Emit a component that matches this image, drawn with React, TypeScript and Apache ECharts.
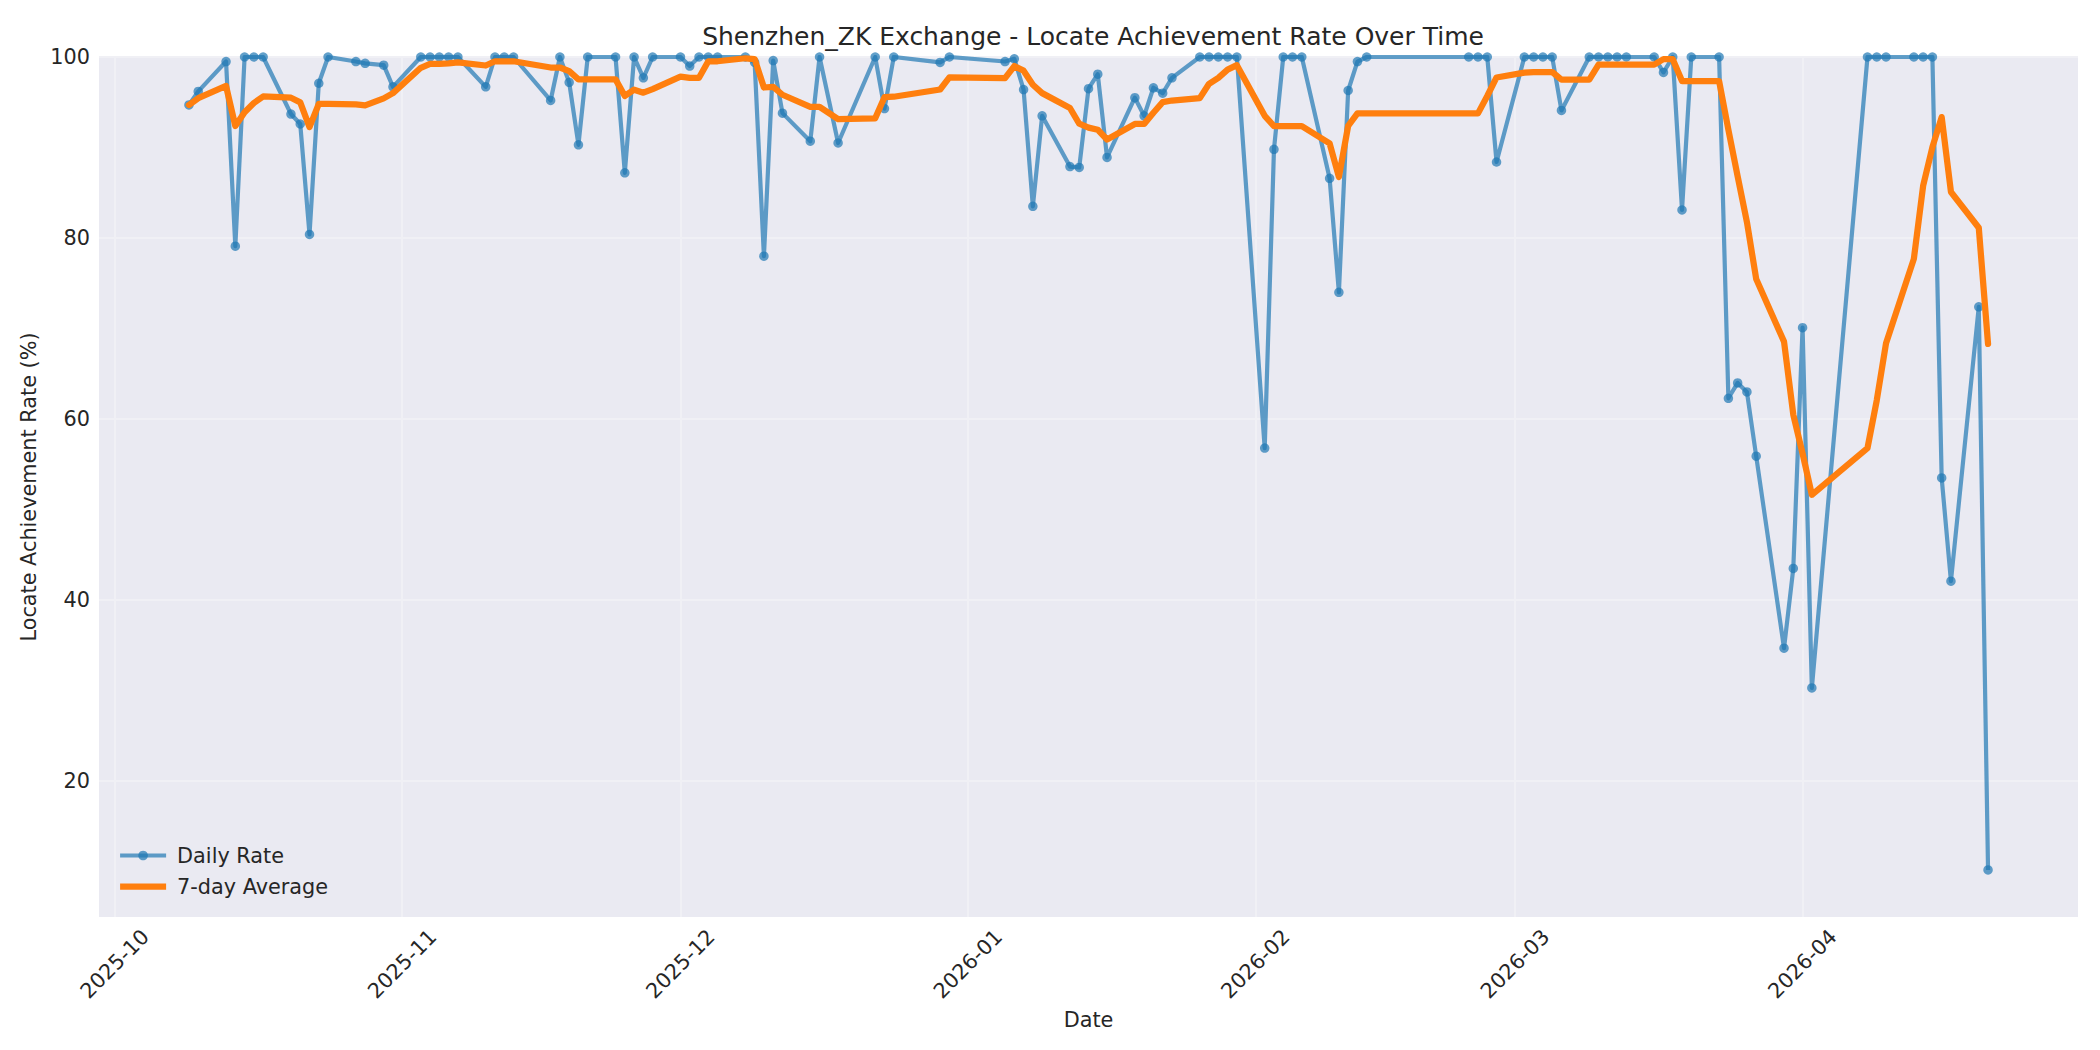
import React, { useEffect, useRef } from "react";
import * as echarts from "echarts";

// ---- Data ----
const dates: string[] = [
  "2025-10-09", "2025-10-10", "2025-10-13", "2025-10-14", "2025-10-15", "2025-10-16", "2025-10-17",
  "2025-10-20", "2025-10-21", "2025-10-22", "2025-10-23", "2025-10-24", "2025-10-27", "2025-10-28",
  "2025-10-30", "2025-10-31",
  "2025-11-03", "2025-11-04", "2025-11-05", "2025-11-06", "2025-11-07", "2025-11-10", "2025-11-11",
  "2025-11-12", "2025-11-13", "2025-11-17", "2025-11-18", "2025-11-19", "2025-11-20", "2025-11-21",
  "2025-11-24", "2025-11-25", "2025-11-26", "2025-11-27", "2025-11-28",
  "2025-12-01", "2025-12-02", "2025-12-03", "2025-12-04", "2025-12-05", "2025-12-08", "2025-12-09",
  "2025-12-10", "2025-12-11", "2025-12-12", "2025-12-15", "2025-12-16", "2025-12-18", "2025-12-22",
  "2025-12-23", "2025-12-24", "2025-12-29", "2025-12-30",
  "2026-01-05", "2026-01-06", "2026-01-07", "2026-01-08", "2026-01-09", "2026-01-12", "2026-01-13",
  "2026-01-14", "2026-01-15", "2026-01-16", "2026-01-19", "2026-01-20", "2026-01-21", "2026-01-22",
  "2026-01-23", "2026-01-26", "2026-01-27", "2026-01-28", "2026-01-29", "2026-01-30",
  "2026-02-02", "2026-02-03", "2026-02-04", "2026-02-05", "2026-02-06", "2026-02-09", "2026-02-10",
  "2026-02-11", "2026-02-12", "2026-02-13", "2026-02-24", "2026-02-25", "2026-02-26", "2026-02-27",
  "2026-03-02", "2026-03-03", "2026-03-04", "2026-03-05", "2026-03-06", "2026-03-09", "2026-03-10",
  "2026-03-11", "2026-03-12", "2026-03-13", "2026-03-16", "2026-03-17", "2026-03-18", "2026-03-19",
  "2026-03-20", "2026-03-23", "2026-03-24", "2026-03-25", "2026-03-26", "2026-03-27", "2026-03-30",
  "2026-03-31",
  "2026-04-01", "2026-04-02", "2026-04-08", "2026-04-09", "2026-04-10", "2026-04-13", "2026-04-14",
  "2026-04-15", "2026-04-16", "2026-04-17", "2026-04-20", "2026-04-21",
];

const dailyRate: number[] = [
  94.7, 96.2, 99.5, 79.1, 100, 100, 100,
  93.7, 92.6, 80.4, 97.1, 100, 99.5, 99.3,
  99.1, 96.7,
  100, 100, 100, 100, 100, 96.7, 100,
  100, 100, 95.2, 100, 97.2, 90.3, 100,
  100, 87.2, 100, 97.7, 100,
  100, 99.0, 100, 100, 100, 100, 99.4,
  78.0, 99.6, 93.8, 90.7, 100, 90.5, 100,
  94.3, 100, 99.4, 100,
  99.5, 99.8, 96.4, 83.5, 93.5, 87.9, 87.8,
  96.5, 98.1, 88.9, 95.5, 93.5, 96.6, 96.0,
  97.7, 100, 100, 100, 100, 100,
  56.8, 89.8, 100, 100, 100, 86.6, 74.0,
  96.3, 99.5, 100, 100, 100, 100, 88.4,
  100, 100, 100, 100, 94.1, 100, 100,
  100, 100, 100, 100, 98.3, 100, 83.1,
  100, 100, 62.3, 64.0, 63.0, 55.9, 34.7,
  43.5,
  70.1, 30.3, 100, 100, 100, 100, 100,
  100, 53.5, 42.1, 72.4, 10.2,
];

const sevenDayAvg: number[] = [
  94.7, 95.45, 96.8, 92.38, 93.9, 94.92, 95.64,
  95.5, 94.99, 92.26, 94.83, 94.83, 94.76, 94.66,
  95.43, 96.01,
  98.81, 99.23, 99.23, 99.3, 99.4, 99.06, 99.53,
  99.53, 99.53, 98.84, 98.84, 98.44, 97.53, 97.53,
  97.53, 95.7, 96.39, 96.06, 96.46,
  97.84, 97.7, 97.7, 99.53, 99.53, 99.86, 99.77,
  96.63, 96.71, 95.83, 94.5, 94.5, 93.14, 93.23,
  95.56, 95.61, 96.41, 97.74,
  97.67, 99.0, 98.49, 96.94, 96.01, 94.37, 92.63,
  92.2, 91.96, 90.89, 92.6, 92.6, 93.84, 95.01,
  95.19, 95.46, 97.04, 97.69, 98.61, 99.1,
  93.5, 92.37, 92.37, 92.37, 92.37, 90.46, 86.74,
  92.39, 93.77, 93.77, 93.77, 93.77, 95.69, 97.74,
  98.27, 98.34, 98.34, 98.34, 97.5, 97.5, 99.16,
  99.16, 99.16, 99.16, 99.16, 99.76, 99.76, 97.34,
  97.34, 97.34, 91.96, 86.81, 81.77, 75.47, 68.56,
  60.49,
  56.21, 51.64, 56.79, 62.07, 68.37, 77.7, 85.77,
  90.04, 93.36, 85.09, 81.14, 68.31,
];

const monthTicks: string[] = [
  "2025-10-01", "2025-11-01", "2025-12-01", "2026-01-01", "2026-02-01", "2026-03-01", "2026-04-01",
];
const yTicks: number[] = [20, 40, 60, 80, 100];

const FONT = "DejaVu Sans";
const TEXT = "#262626";

function toTs(s: string): number {
  const [y, m, d] = s.split("-").map(Number);
  return new Date(y, m - 1, d).getTime();
}

export default function App() {
  const ref = useRef<HTMLDivElement>(null);

  useEffect(() => {
    if (!ref.current) return;
    const chart = echarts.init(ref.current, undefined, { renderer: "svg" });

    const xMin = new Date(2025, 8, 29, 7, 12).getTime();
    const xMax = new Date(2026, 3, 30, 16, 48).getTime();
    const monthTs = monthTicks.map(toTs);

    const option: any = {
      animation: false,
      backgroundColor: "#ffffff",
      textStyle: { fontFamily: FONT },
      title: {
        text: "Shenzhen_ZK Exchange - Locate Achievement Rate Over Time",
        left: 1088,
        top: 19,
        textAlign: "center",
        textStyle: { fontFamily: FONT, fontSize: 25, fontWeight: "normal", color: TEXT },
      },
      grid: {
        left: 99,
        right: 22,
        top: 57,
        bottom: 133,
        show: true,
        backgroundColor: "#EAEAF2",
        borderWidth: 0,
        containLabel: false,
      },
      legend: {
        orient: "vertical",
        left: 113,
        top: 840,
        itemWidth: 46,
        itemHeight: 12,
        itemGap: 10,
        lineStyle: { width: "inherit" },
        data: [
          { name: "Daily Rate" },
          {
            name: "7-day Average",
            icon: "path://M0 0H46V6.25H0Z",
            itemStyle: { color: "#ff7f0e" },
          },
        ],
        textStyle: {
          fontFamily: FONT,
          fontSize: 20.8,
          color: TEXT,
          padding: [0, 0, 0, 6],
        },
      },
      xAxis: {
        type: "value",
        min: xMin,
        max: xMax,
        name: "Date",
        nameLocation: "middle",
        nameGap: 84,
        nameTextStyle: { fontFamily: FONT, fontSize: 20.8, color: TEXT },
        axisLine: { show: false },
        axisTick: { show: false, customValues: monthTs },
        axisLabel: {
          customValues: monthTs,
          rotate: 45,
          align: "center",
          verticalAlign: "middle",
          margin: 47,
          fontFamily: FONT,
          fontSize: 20.8,
          color: TEXT,
          formatter: (v: number) => {
            const d = new Date(v);
            return `${d.getFullYear()}-${String(d.getMonth() + 1).padStart(2, "0")}`;
          },
        },
        splitLine: { show: true, lineStyle: { color: "#F0F0F5", width: 2 } },
      },
      yAxis: {
        type: "value",
        min: 5.0,
        max: 100,
        name: "Locate Achievement Rate (%)",
        nameLocation: "middle",
        nameGap: 54,
        nameTextStyle: { fontFamily: FONT, fontSize: 20.8, color: TEXT },
        axisLine: { show: false },
        axisTick: { show: false, customValues: yTicks },
        axisLabel: {
          customValues: yTicks,
          margin: 9,
          fontFamily: FONT,
          fontSize: 20.8,
          color: TEXT,
        },
        splitLine: { show: true, lineStyle: { color: "#F0F0F5", width: 2 } },
      },
      series: [
        {
          name: "Daily Rate",
          type: "line",
          data: dates.map((d, i) => [toTs(d), dailyRate[i]]),
          symbol: "circle",
          symbolSize: 9.5,
          showSymbol: true,
          showAllSymbol: true,
          silent: true,
          z: 2,
          lineStyle: { color: "#1f77b4", width: 4.2, opacity: 0.7, join: "round" },
          itemStyle: { color: "#1f77b4", opacity: 0.7 },
          emphasis: { disabled: true },
        },
        {
          name: "7-day Average",
          type: "line",
          data: dates.map((d, i) => [toTs(d), sevenDayAvg[i]]),
          symbol: "none",
          silent: true,
          z: 3,
          lineStyle: { color: "#ff7f0e", width: 6.25, join: "round", cap: "round" },
          itemStyle: { color: "#ff7f0e" },
          emphasis: { disabled: true },
        },
      ],
    };

    chart.setOption(option);
    return () => chart.dispose();
  }, []);

  return (
    <div
      ref={ref}
      style={{ position: "absolute", left: 0, top: 0, width: 2100, height: 1050, background: "#fff" }}
    />
  );
}
